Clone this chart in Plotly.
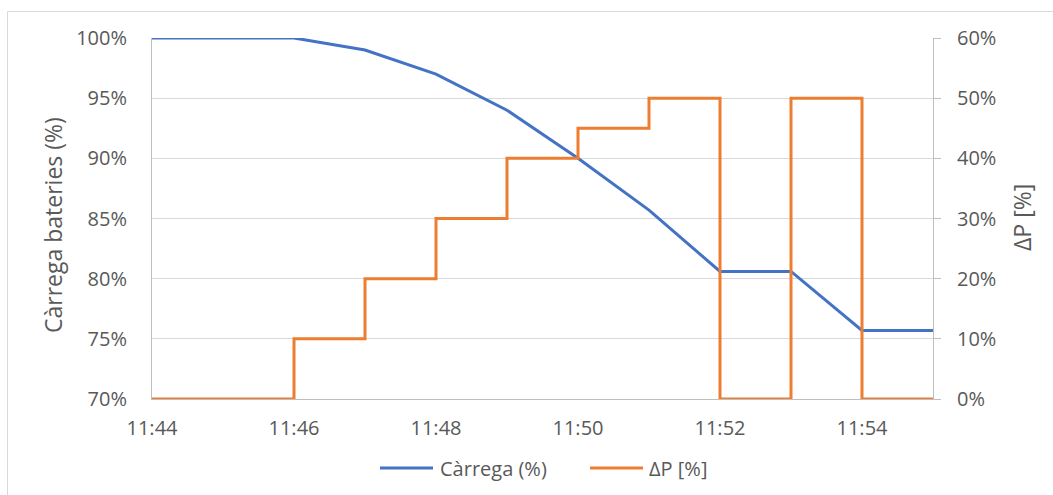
import plotly.graph_objects as go

# Time stamps (one per minute)
times = ["11:44", "11:45", "11:46", "11:47", "11:48", "11:49",
         "11:50", "11:51", "11:52", "11:53", "11:54", "11:55"]
# Battery charge (%)
carrega = [100, 100, 100, 99, 97, 94, 90, 85.7, 80.6, 80.6, 75.7, 75.7]
# Power deviation (%) held until the next minute
delta_p = [0, 0, 10, 20, 30, 40, 45, 50, 0, 50, 0, 0]

series_names = ["Càrrega (%)", "ΔP [%]"]
series_colors = ["#4472c4", "#ed7d31"]

x = [f"2020-01-01 {t}:00" for t in times]

FONT = "Open Sans"
TXT = "#595959"
GRID = "#d9d9d9"
AXIS = "#bfbfbf"

W, H = 1053, 495
L, R, T, B = 152, 120, 38, 96
pw, ph = W - L - R, H - T - B


def px_x(p):
    return (p - L) / pw


def px_y(p):
    return (T + ph - p) / ph


fig = go.Figure()
fig.add_trace(go.Scatter(
    x=x, y=carrega, name=series_names[0], mode="lines",
    line=dict(color=series_colors[0], width=3), yaxis="y",
))
fig.add_trace(go.Scatter(
    x=x, y=delta_p, name=series_names[1], mode="lines", line_shape="hv",
    line=dict(color=series_colors[1], width=3), yaxis="y2",
))

fig.update_layout(
    width=W, height=H,
    margin=dict(l=L, r=R, t=T, b=B, pad=0, autoexpand=False),
    paper_bgcolor="white", plot_bgcolor="white",
    font=dict(family=FONT, color=TXT, size=20),
    showlegend=False,
    xaxis=dict(
        type="date", range=["2020-01-01 11:44:00", "2020-01-01 11:55:00"],
        dtick=120000, tick0="2020-01-01 11:44:00", tickformat="%H:%M",
        showgrid=False, showline=True, linecolor=AXIS, linewidth=1,
        ticks="outside", ticklen=11, tickcolor="rgba(0,0,0,0)",
        tickfont=dict(size=20, color=TXT), zeroline=False, automargin=False,
    ),
    yaxis=dict(
        range=[70, 100], dtick=5, ticksuffix="%",
        showgrid=True, gridcolor=GRID, gridwidth=1,
        showline=True, linecolor=AXIS, linewidth=1, zeroline=False,
        ticks="outside", ticklen=20, tickcolor="rgba(0,0,0,0)",
        tickfont=dict(size=20, color=TXT), automargin=False,
    ),
    yaxis2=dict(
        range=[0, 60], dtick=10, ticksuffix="%", overlaying="y", side="right",
        showgrid=False, showline=True, linecolor=AXIS, linewidth=1, zeroline=False,
        ticks="outside", ticklen=7, tickcolor=AXIS, ticklabelstandoff=12,
        tickfont=dict(size=20, color=TXT), automargin=False,
    ),
)

# axis titles
fig.add_annotation(
    text="Càrrega bateries (%)", textangle=-90, xref="paper", yref="paper",
    x=px_x(53), y=px_y(225), xanchor="center", yanchor="middle",
    showarrow=False, font=dict(size=23, color=TXT),
)
fig.add_annotation(
    text="ΔP [%]", textangle=-90, xref="paper", yref="paper",
    x=px_x(1022), y=px_y(218), xanchor="center", yanchor="middle",
    showarrow=False, font=dict(size=23, color=TXT),
)

# legend: line sample followed by its label
legend_items = [(380, 433, 438), (590, 643, 647)]
for (x0, x1, tx), name, color in zip(legend_items, series_names, series_colors):
    fig.add_shape(type="line", xref="paper", yref="paper",
                  x0=px_x(x0), x1=px_x(x1), y0=px_y(468), y1=px_y(468),
                  line=dict(color=color, width=3))
    fig.add_annotation(text=name, xref="paper", yref="paper",
                       x=px_x(tx), y=px_y(468), xanchor="left", yanchor="middle",
                       showarrow=False, font=dict(size=20, color=TXT))

# light frame around the chart (left and top edges)
fig.add_shape(type="line", xref="paper", yref="paper", layer="below",
              x0=px_x(7.5), x1=px_x(7.5), y0=px_y(11.5), y1=px_y(H + 5),
              line=dict(color=GRID, width=1))
fig.add_shape(type="line", xref="paper", yref="paper", layer="below",
              x0=px_x(7.5), x1=px_x(W + 5), y0=px_y(11.5), y1=px_y(11.5),
              line=dict(color=GRID, width=1))

fig.write_html("out.html")
